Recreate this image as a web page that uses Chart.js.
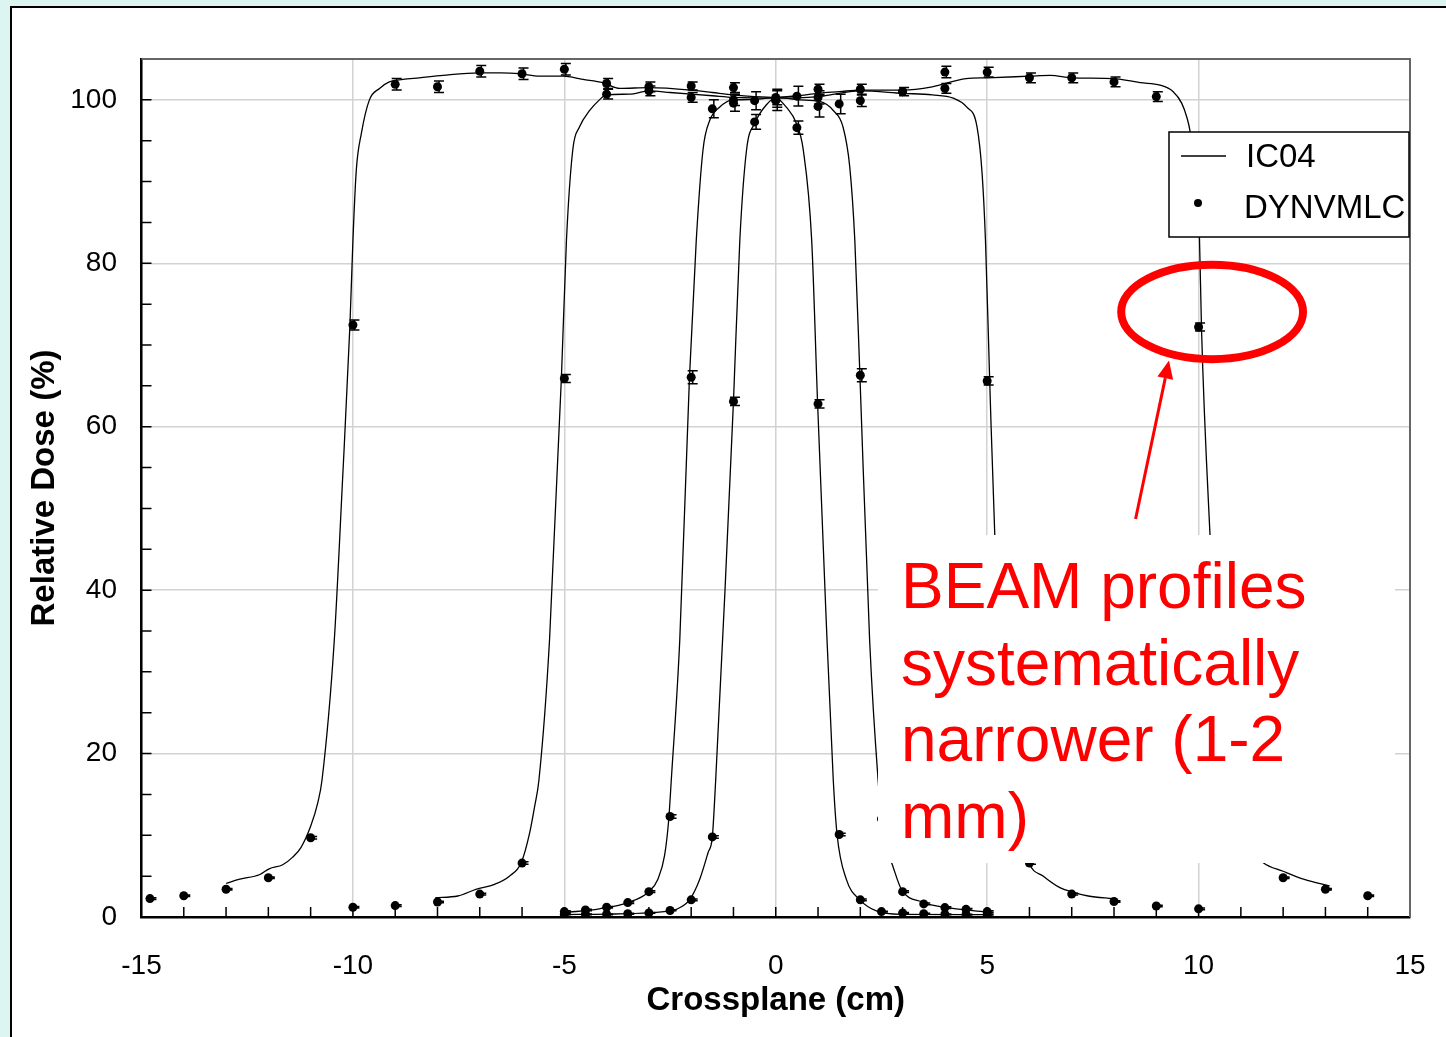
<!DOCTYPE html>
<html>
<head>
<meta charset="utf-8">
<title>Crossplane profiles</title>
<script src="https://cdn.jsdelivr.net/npm/chart.js@4.4.1/dist/chart.umd.min.js"></script>
<style>
  html, body { margin: 0; padding: 0; width: 1446px; height: 1037px; overflow: hidden; background: #ddf5f0; }
  #panel { position: absolute; left: 10px; top: 6px; width: 1500px; height: 1100px; background: #fff; border: 2px solid #000; }
  #chart { position: absolute; left: 0; top: 0; }
  #note { position: absolute; left: 878px; top: 535px; width: 517px; height: 328px; box-sizing: border-box;
          padding: 13px 0 0 23px; background: #fff; color: #ff0000;
          font: 64px/76.7px "Liberation Sans", Arial, sans-serif; }
</style>
</head>
<body>
<div id="panel"></div>
<canvas id="chart" width="1446" height="1037"></canvas>
<div id="note">BEAM profiles<br>systematically<br>narrower (1-2<br>mm)</div>
<script>
const FONT = '"Liberation Sans", Arial, sans-serif';

// tick labels
const xTicks = [-15, -10, -5, 0, 5, 10, 15];
const yTicks = [0, 20, 40, 60, 80, 100];

// IC04 measured profiles [x cm, dose %]
const ic20 = [[-13.0,4.1],[-12.7,4.6],[-12.2,5.2],[-11.98,5.9],[-11.66,6.4],[-11.43,7.3],[-11.23,8.5],[-11.0,11.1],
  [-10.83,14.0],[-10.73,16.8],[-10.44,33.9],[-10.25,53.0],[-10.07,72.5],[-10.0,82.8],[-9.92,91.4],[-9.8,95.9],
  [-9.61,100.0],[-9.37,101.4],[-9.14,102.2],[-8.82,102.5],[-8.43,102.7],[-7.87,103.0],[-7.0,103.3],[-6.5,103.3],
  [-6.06,103.2],[-5.59,102.9],[-5.03,102.9],[-4.56,102.5],[-4.09,102.1],[-3.69,101.4],[-3.0,101.5],[-2.0,101.2],
  [-1.5,100.9],[-1.0,100.6],[-0.5,100.4],[0,100.3],[0.5,100.5],[1.0,100.8],[1.5,101.0],[2.0,101.2],[3.0,101.2],
  [3.7,101.6],[4.5,102.6],[5.0,102.7],[6.0,102.9],[6.5,103.0],[7.0,102.7],[8.0,102.6],[8.62,102.1],[9.09,101.8],
  [9.4,101.0],[9.6,99.6],[9.72,97.9],[9.8,96.1],[9.9,91.5],[10.02,83.3],[10.07,71.8],[10.27,46.8],[10.45,30.0],
  [10.65,17.5],[10.8,13.5],[11.0,10.6],[11.25,8.3],[11.53,6.65],[12.0,5.6],[12.5,4.6],[13.1,3.8]];
const ic10 = [[-8.05,2.37],[-7.52,2.57],[-7.09,3.39],[-6.65,4.0],[-6.3,5.0],[-6.02,6.65],[-5.82,10.3],[-5.7,13.6],
  [-5.6,16.8],[-5.35,33.9],[-5.07,65.9],[-4.95,82.8],[-4.8,93.9],[-4.64,96.7],[-4.4,98.7],[-4.17,100.0],[-4.01,100.6],
  [-3.46,100.7],[-3.0,101.1],[-2.5,100.9],[-2.0,100.7],[-1.5,100.5],[-1.0,100.3],[0,100.2],[1.0,100.4],[2.0,101.1],
  [3.0,100.8],[3.7,100.6],[4.2,100.2],[4.52,99.1],[4.76,96.7],[4.88,91.0],[4.96,82.8],[5.06,65.6],[5.18,46.8],
  [5.35,33.9],[5.6,16.8],[5.7,13.6],[5.82,10.3],[5.99,6.65],[6.33,5.0],[6.72,3.6],[6.98,3.1],[7.39,2.57],[7.98,2.25]];
const ic4 = [[-5.0,0.54],[-4.17,1.0],[-3.5,1.76],[-3.0,3.1],[-2.79,4.6],[-2.63,7.5],[-2.53,12.0],[-2.47,16.8],
  [-2.27,33.9],[-2.04,66.1],[-1.88,82.8],[-1.72,93.9],[-1.56,97.5],[-1.33,99.1],[-1.01,100.0],[-0.5,100.05],[0,100.3],
  [0.57,100.0],[1.04,99.8],[1.36,98.7],[1.59,96.7],[1.75,91.8],[1.87,82.8],[1.99,66.3],[2.22,33.9],[2.42,16.8],
  [2.5,12.5],[2.6,8.5],[2.74,6.65],[2.97,3.4],[3.47,1.83],[3.98,1.2],[4.99,0.6]];
const ic2 = [[-5.0,0.3],[-4.0,0.35],[-3.0,0.5],[-2.5,0.75],[-2.35,0.94],[-2.04,2.1],[-1.8,4.6],[-1.6,7.9],[-1.5,9.8],
  [-1.42,16.8],[-1.2,40.0],[-1.0,63.1],[-0.85,82.8],[-0.69,93.9],[-0.5,97.1],[-0.22,99.4],[0,100.2],[0.25,99.1],
  [0.49,97.1],[0.65,93.9],[0.85,82.8],[0.99,62.8],[1.18,38.0],[1.36,16.8],[1.45,10.1],[1.67,4.6],[1.99,2.1],
  [2.38,0.74],[2.97,0.33],[5.0,0.3]];

// DYNVMLC calculated profiles [x cm, dose %, error %]
const dyn20 = [[-14.8,2.25,0.1],[-14,2.6,0.1],[-13,3.4,0.1],[-12,4.8,0.1],[-11,9.7,0.15],[-10,72.45,0.6],
  [-9,101.9,0.7],[-8,101.6,0.7],[-7,103.5,0.7],[-6,103.2,0.7],[-5,103.75,0.7],[-4,102.0,0.6],[-3,101.6,0.6],
  [-2,101.7,0.5],[-1,101.5,0.6],[0,100.3,0.9],[1,101.3,0.6],[2,101.3,0.6],[3,101.0,0.5],[4,103.4,0.7],
  [5,103.4,0.6],[6,102.7,0.6],[7,102.7,0.6],[8,102.2,0.6],[9,100.4,0.6],[10,72.2,0.5],[11,9.7,0.15],
  [12,4.8,0.1],[13,3.4,0.1],[14,2.6,0.1]];
const dyn10 = [[-10,1.2,0.1],[-9,1.4,0.1],[-8,1.83,0.1],[-7,2.8,0.1],[-6,6.6,0.15],[-5,65.9,0.5],[-4,100.7,0.6],
  [-3,101.1,0.6],[-2,100.3,0.6],[-1,100.0,0.7],[0,100.1,1.0],[1,100.3,0.8],[2,99.9,0.7],[3,101.0,0.5],
  [4,101.4,0.6],[5,65.6,0.5],[6,6.6,0.15],[7,2.8,0.1],[8,1.9,0.1],[9,1.35,0.1],[10,1.0,0.1]];
const dyn4 = [[-5,0.66,0.1],[-4.5,0.86,0.1],[-4,1.2,0.1],[-3.5,1.76,0.1],[-3,3.1,0.1],[-2.5,12.3,0.2],
  [-2,66.06,0.8],[-1.5,98.9,1.1],[-1,99.6,1.0],[-0.5,99.9,1.1],[0,99.9,1.2],[0.5,100.45,1.2],[1,99.2,1.3],
  [1.5,99.5,1.2],[2,66.3,0.8],[2.5,12.0,0.2],[3,3.1,0.1],[3.5,1.6,0.1],[4,1.15,0.1],[4.5,0.94,0.1],[5,0.66,0.1]];
const dyn2 = [[-5,0.33,0.05],[-4.5,0.33,0.05],[-4,0.33,0.05],[-3.5,0.4,0.05],[-3,0.5,0.05],[-2.5,0.8,0.05],
  [-2,2.1,0.1],[-1.5,9.8,0.15],[-1,63.1,0.5],[-0.5,97.3,0.9],[0,100.0,1.3],[0.5,96.6,0.8],[1,62.8,0.5],
  [1.5,10.1,0.15],[2,2.1,0.1],[2.5,0.66,0.05],[3,0.5,0.05],[3.5,0.4,0.05],[4,0.33,0.05],[4.5,0.3,0.05],[5,0.3,0.05]];

// annotation (data units)
const ring = { x: 10.32, y: 74.05, rx: 2.15, ry: 5.78 };
const arrow = { x0: 8.51, y0: 48.7, x1: 9.30, y1: 68.1 };

function lineSet(pts) {
  return { label: 'IC04', data: pts.map(([x, y]) => ({ x, y })), showLine: true, pointRadius: 0,
           borderColor: '#000', borderWidth: 1.3, cubicInterpolationMode: 'monotone', order: 2 };
}
function dotSet(pts) {
  return { label: 'DYNVMLC', data: pts.map(([x, y, err]) => ({ x, y, err })), showLine: false, errBars: true,
           pointRadius: 4.5, pointBackgroundColor: '#000', pointBorderWidth: 0, order: 1 };
}

const extras = {
  id: 'extras',
  beforeDatasetsDraw(chart) {
    const { ctx, chartArea: a, scales: { x, y } } = chart;
    ctx.save();
    ctx.strokeStyle = '#000';
    ctx.lineWidth = 1.5;
    ctx.beginPath();
    for (let v = -14; v <= 14; v++) {
      const px = x.getPixelForValue(v);
      ctx.moveTo(px, a.bottom); ctx.lineTo(px, a.bottom - 10);
    }
    for (let v = 5; v <= 100; v += 5) {
      const py = y.getPixelForValue(v);
      ctx.moveTo(a.left, py); ctx.lineTo(a.left + 10, py);
    }
    ctx.stroke();
    ctx.strokeStyle = '#666';
    ctx.lineWidth = 2;
    ctx.beginPath();
    ctx.moveTo(a.left, a.top); ctx.lineTo(a.right, a.top); ctx.lineTo(a.right, a.bottom);
    ctx.stroke();
    ctx.restore();
  },
  afterDatasetsDraw(chart) {
    const { ctx, scales: { y } } = chart;
    ctx.save();
    ctx.strokeStyle = '#000';
    ctx.lineWidth = 1.5;
    ctx.beginPath();
    chart.data.datasets.forEach((ds, i) => {
      if (!ds.errBars) return;
      chart.getDatasetMeta(i).data.forEach((pt, j) => {
        const d = ds.data[j];
        const px = pt.x + 1.5;
        const t = y.getPixelForValue(d.y + d.err), b = y.getPixelForValue(d.y - d.err);
        ctx.moveTo(px, t); ctx.lineTo(px, b);
        ctx.moveTo(px - 5, t); ctx.lineTo(px + 5, t);
        ctx.moveTo(px - 5, b); ctx.lineTo(px + 5, b);
      });
    });
    ctx.stroke();
    ctx.restore();
  },
  afterDraw(chart) {
    const { ctx, scales: { x, y } } = chart;
    ctx.save();
    // legend
    ctx.fillStyle = '#fff';
    ctx.fillRect(1169, 132, 240, 105);
    ctx.strokeStyle = '#000';
    ctx.lineWidth = 1.5;
    ctx.strokeRect(1169, 132, 240, 105);
    ctx.lineWidth = 1.3;
    ctx.beginPath(); ctx.moveTo(1181, 156); ctx.lineTo(1226, 156); ctx.stroke();
    ctx.fillStyle = '#000';
    ctx.beginPath(); ctx.arc(1198, 203, 4, 0, Math.PI * 2); ctx.fill();
    ctx.font = '33px ' + FONT;
    ctx.textBaseline = 'alphabetic';
    ctx.fillText('IC04', 1246, 167);
    ctx.fillText('DYNVMLC', 1244, 218);
    // red ring
    const cx = x.getPixelForValue(ring.x), cy = y.getPixelForValue(ring.y);
    const rx = x.getPixelForValue(ring.x + ring.rx) - cx, ry = cy - y.getPixelForValue(ring.y + ring.ry);
    ctx.strokeStyle = '#ff0000';
    ctx.lineWidth = 8;
    ctx.beginPath(); ctx.ellipse(cx, cy, rx, ry, 0, 0, Math.PI * 2); ctx.stroke();
    // arrow
    const ax0 = x.getPixelForValue(arrow.x0), ay0 = y.getPixelForValue(arrow.y0);
    const ax1 = x.getPixelForValue(arrow.x1), ay1 = y.getPixelForValue(arrow.y1);
    const len = Math.hypot(ax1 - ax0, ay1 - ay0), ux = (ax1 - ax0) / len, uy = (ay1 - ay0) / len;
    const bx = ax1 - ux * 18, by = ay1 - uy * 18;
    ctx.lineWidth = 3;
    ctx.beginPath(); ctx.moveTo(ax0, ay0); ctx.lineTo(bx, by); ctx.stroke();
    ctx.fillStyle = '#ff0000';
    ctx.beginPath();
    ctx.moveTo(ax1, ay1);
    ctx.lineTo(bx - uy * 8, by + ux * 8);
    ctx.lineTo(bx + uy * 8, by - ux * 8);
    ctx.closePath(); ctx.fill();
    ctx.restore();
  }
};

new Chart(document.getElementById('chart'), {
  type: 'scatter',
  data: {
    datasets: [dotSet(dyn20), dotSet(dyn10), dotSet(dyn4), dotSet(dyn2),
               lineSet(ic20), lineSet(ic10), lineSet(ic4), lineSet(ic2)]
  },
  options: {
    responsive: false,
    animation: false,
    devicePixelRatio: 1,
    layout: { padding: { left: 0, top: 59, right: 36, bottom: 0 } },
    plugins: { legend: { display: false }, tooltip: { enabled: false } },
    scales: {
      x: {
        type: 'linear', min: -15, max: 15,
        afterFit: s => { s.height = 120; s.paddingLeft = 0; s.paddingRight = 0; },
        afterBuildTicks: s => { s.ticks = xTicks.map(v => ({ value: v })); },
        grid: { color: '#d2d2d2', lineWidth: 1.5, drawTicks: false },
        border: { color: '#000', width: 2.5 },
        ticks: { padding: 32, color: '#000', maxRotation: 0, font: { family: FONT, size: 28 } },
        title: { display: true, text: 'Crossplane (cm)', color: '#000',
                 font: { family: FONT, size: 33, weight: 'bold' }, padding: { top: 0, bottom: 16 } }
      },
      y: {
        type: 'linear', min: 0, max: 105,
        afterFit: s => { s.width = 141.5; },
        afterBuildTicks: s => { s.ticks = yTicks.map(v => ({ value: v })); },
        grid: { color: '#d2d2d2', lineWidth: 1.5, drawTicks: false },
        border: { color: '#000', width: 2.5 },
        ticks: { padding: 24.5, color: '#000', font: { family: FONT, size: 28 } },
        title: { display: true, text: 'Relative Dose (%)', color: '#000',
                 font: { family: FONT, size: 33, weight: 'bold' }, padding: { top: 25.5, bottom: 0 } }
      }
    }
  },
  plugins: [extras]
});
</script>
</body>
</html>
